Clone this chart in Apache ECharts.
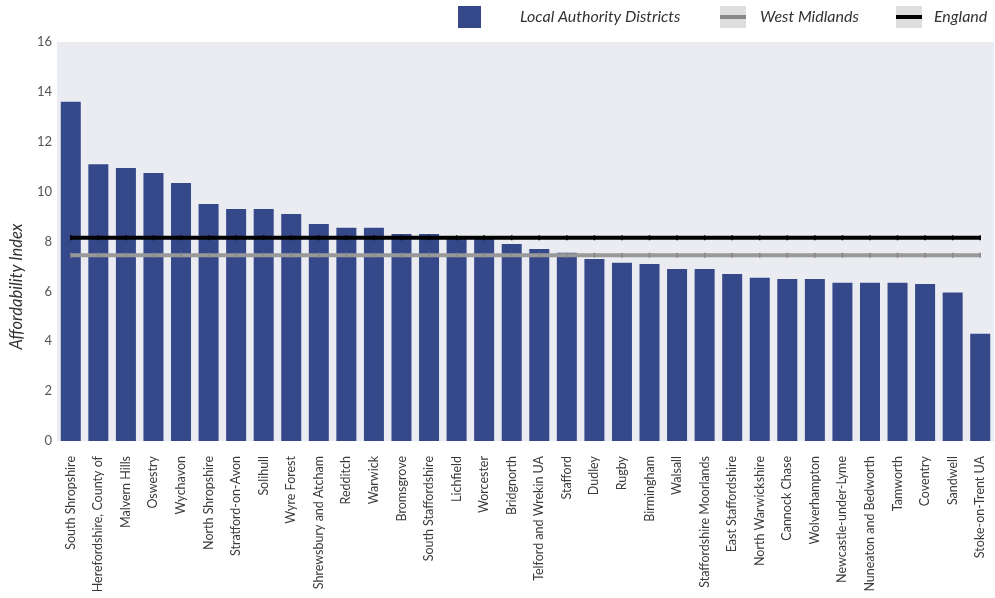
<!DOCTYPE html>
<html>
<head>
<meta charset="utf-8">
<script src="https://cdn.jsdelivr.net/npm/echarts@6/dist/echarts.min.js"></script>
<style>html,body{margin:0;padding:0;background:#fff}#c{width:995px;height:598px}</style>
</head>
<body>
<div id="c"></div>
<script>
const categories = ["South Shropshire","Herefordshire, County of","Malvern Hills","Oswestry","Wychavon","North Shropshire","Stratford-on-Avon","Solihull","Wyre Forest","Shrewsbury and Atcham","Redditch","Warwick","Bromsgrove","South Staffordshire","Lichfield","Worcester","Bridgnorth","Telford and Wrekin UA","Stafford","Dudley","Rugby","Birmingham","Walsall","Staffordshire Moorlands","East Staffordshire","North Warwickshire","Cannock Chase","Wolverhampton","Newcastle-under-Lyme","Nuneaton and Bedworth","Tamworth","Coventry","Sandwell","Stoke-on-Trent UA"];
const localAuthority = [13.6,11.1,10.95,10.75,10.35,9.5,9.3,9.3,9.1,8.7,8.55,8.55,8.3,8.3,8.2,8.15,7.9,7.7,7.55,7.3,7.15,7.1,6.9,6.9,6.7,6.55,6.5,6.5,6.35,6.35,6.35,6.3,5.95,4.3];
const westMidlands = [7.45,7.45,7.45,7.45,7.45,7.45,7.45,7.45,7.45,7.45,7.45,7.45,7.45,7.45,7.45,7.45,7.45,7.45,7.45,7.45,7.45,7.45,7.45,7.45,7.45,7.45,7.45,7.45,7.45,7.45,7.45,7.45,7.45,7.45];
const england = [8.15,8.15,8.15,8.15,8.15,8.15,8.15,8.15,8.15,8.15,8.15,8.15,8.15,8.15,8.15,8.15,8.15,8.15,8.15,8.15,8.15,8.15,8.15,8.15,8.15,8.15,8.15,8.15,8.15,8.15,8.15,8.15,8.15,8.15];
const yTicks = {min: 0, max: 16, interval: 2};

const FONT = 'Lato';
const lineIcon = 'path://M0,0h0M0,9h26v4h-26zM26,22h0';
const legendText = {fontStyle: 'italic', fontSize: 16, color: '#333', fontFamily: FONT};
const chart = echarts.init(document.getElementById('c'));
chart.setOption({
  animation: false,
  textStyle: {fontFamily: FONT},
  graphic: [
    {type: 'rect', left: 720, top: 6, z: 0, shape: {width: 26, height: 22}, style: {fill: '#dedede'}},
    {type: 'rect', left: 896, top: 6, z: 0, shape: {width: 26, height: 22}, style: {fill: '#dedede'}}
  ],
  legend: [
    {left: 458, top: 6, padding: 0, itemWidth: 23, itemHeight: 22, icon: 'rect', data: ['Local Authority Districts'],
     textStyle: Object.assign({padding: [0,0,0,34]}, legendText)},
    {left: 720, top: 6, padding: 0, itemWidth: 26, itemHeight: 22, icon: lineIcon, data: ['West Midlands'],
     textStyle: Object.assign({padding: [0,0,0,9]}, legendText)},
    {left: 896, top: 6, padding: 0, itemWidth: 26, itemHeight: 22, icon: lineIcon, data: ['England'],
     textStyle: Object.assign({padding: [0,0,0,7]}, legendText)}
  ],
  grid: {left: 56, right: 1, top: 42, bottom: 157, show: true, backgroundColor: '#ebecf2', borderWidth: 0},
  xAxis: {
    type: 'category', data: categories,
    axisLine: {show: false}, axisTick: {show: false},
    axisLabel: {rotate: 90, interval: 0, fontSize: 12.5, color: '#3a3a3a', margin: 15, fontFamily: FONT}
  },
  yAxis: {
    type: 'value', min: yTicks.min, max: yTicks.max, interval: yTicks.interval,
    splitLine: {show: false}, axisLine: {show: false}, axisTick: {show: false},
    axisLabel: {fontSize: 13, color: '#555', margin: 5, fontFamily: FONT},
    name: 'Affordability Index', nameLocation: 'middle', nameGap: 32,
    nameTextStyle: {fontStyle: 'italic', fontSize: 16.5, color: '#333', fontFamily: FONT, padding: [0, 90, 0, 0]}
  },
  series: [
    {name: 'Local Authority Districts', type: 'bar', data: localAuthority, barWidth: 20,
     itemStyle: {color: '#34488a'}},
    {name: 'West Midlands', type: 'line', data: westMidlands, symbol: 'rect', symbolSize: [1.5, 5],
     lineStyle: {color: '#999999', width: 4}, itemStyle: {color: '#888888'}, z: 3},
    {name: 'England', type: 'line', data: england, symbol: 'rect', symbolSize: [1.5, 5],
     lineStyle: {color: '#000000', width: 4}, itemStyle: {color: '#000000'}, z: 4}
  ]
});
</script>
</body>
</html>
